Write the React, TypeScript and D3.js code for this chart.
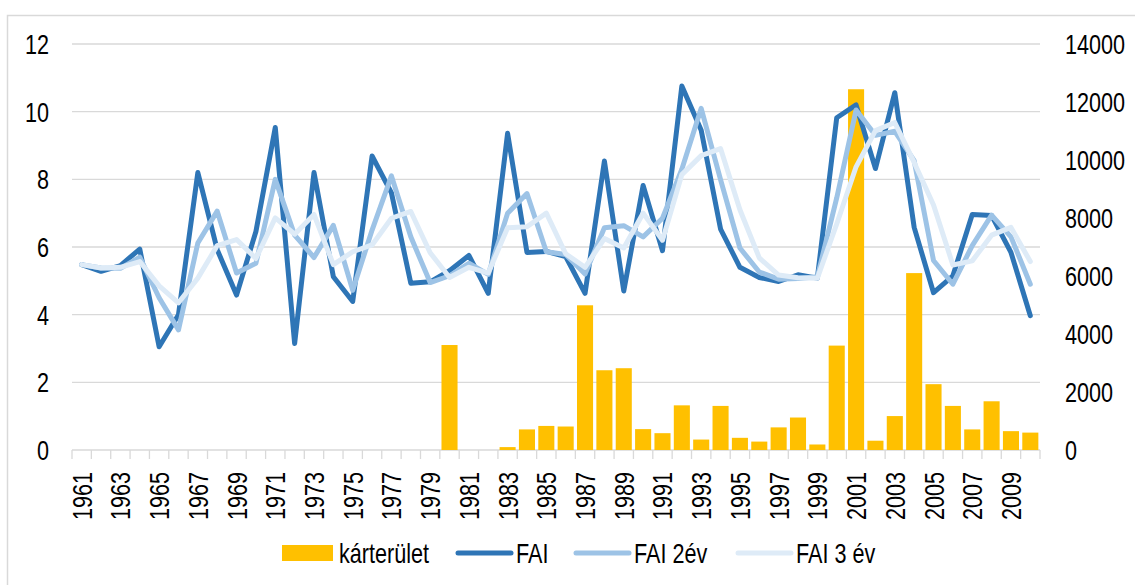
import * as d3 from "d3";

const years = d3.range(1961, 2011);
const tickYears = years.filter((y) => (y - 1961) % 2 === 0);

// károsodott terület (jobb tengely)
const karterulet = [
  0, 0, 0, 0, 0, 0, 0, 0, 0, 0,
  0, 0, 0, 0, 0, 0, 0, 0, 0, 3620,
  0, 0, 100, 710, 830, 810, 4990, 2750, 2820, 720,
  580, 1540, 360, 1520, 420, 290, 780, 1120, 190, 3600,
  12440, 320, 1170, 6100, 2270, 1520, 710, 1680, 650, 600,
];

const fai = [
  5.48, 5.28, 5.45, 5.94, 3.05, 4.0, 8.2, 5.92, 4.58, 6.46,
  9.53, 3.15, 8.2, 5.12, 4.39, 8.69, 7.6, 4.93, 4.97, 5.3,
  5.75, 4.63, 9.36, 5.84, 5.87, 5.72, 4.63, 8.54, 4.7, 7.82,
  5.89, 10.76, 9.45, 6.53, 5.4, 5.1, 4.98, 5.18, 5.08, 9.82,
  10.2, 8.32, 10.56, 6.58, 4.65, 5.15, 6.96, 6.93, 5.84, 3.97,
];

const fai2ev = [
  5.48, 5.38, 5.37, 5.7, 4.5, 3.55, 6.12, 7.06, 5.23, 5.52,
  8.0, 6.35, 5.69, 6.64, 4.72, 6.5, 8.1, 6.3, 4.95, 5.15,
  5.52, 5.19, 7.0, 7.58, 5.86, 5.78, 5.2, 6.57, 6.63, 6.3,
  6.85, 8.3, 10.1, 7.99, 5.97, 5.26, 5.05, 5.07, 5.12, 7.45,
  10.05, 9.3, 9.42, 8.55, 5.6, 4.9, 6.04, 6.94, 6.3, 4.9,
];

const fai3ev = [
  5.48, 5.38, 5.4, 5.57, 4.85, 4.35, 5.08, 6.04, 6.22, 5.66,
  6.86, 6.38, 6.96, 5.48, 5.86, 6.06, 6.85, 7.05, 5.83, 5.1,
  5.4, 5.23, 6.57, 6.6, 7.0, 5.8, 5.4, 6.25, 5.97, 7.0,
  6.2, 8.14, 8.7, 8.91, 7.1, 5.68, 5.17, 5.09, 5.08, 6.68,
  8.37, 9.44, 9.68, 8.5, 7.24, 5.47, 5.59, 6.35, 6.58, 5.57,
];

const leftTicks = [0, 2, 4, 6, 8, 10, 12];
const rightTicks = [0, 2000, 4000, 6000, 8000, 10000, 12000, 14000];

const lineSeries = [
  { name: "FAI", values: fai, color: "#2e75b6" },
  { name: "FAI 2év", values: fai2ev, color: "#9dc3e6" },
  { name: "FAI 3 év", values: fai3ev, color: "#deebf7" },
];

const W = 1135;
const H = 585;
const FONT = "'Liberation Sans', Arial, sans-serif";
const FS = 27;
const NARROW = 0.8; // Arial Narrow look-alike

// text squeezed horizontally, like the narrow font of the original
function NText({ x, y, rot = 0, anchor = "start", children }: any) {
  return (
    <text
      transform={`translate(${x},${y}) rotate(${rot}) scale(${NARROW},1)`}
      textAnchor={anchor}
      fontSize={FS}
      fill="#000"
    >
      {children}
    </text>
  );
}

export default function App() {
  const x = d3.scaleBand<number>().domain(years).range([72, 1040]).padding(0);
  const yL = d3.scaleLinear().domain([0, 12]).range([450, 44]);
  const yR = d3.scaleLinear().domain([0, 14000]).range([450, 44]);
  const cx = (yr: number) => (x(yr) as number) + x.bandwidth() / 2;
  const barW = x.bandwidth() * 0.83;

  const line = d3
    .line<number>()
    .x((_, i) => cx(years[i]))
    .y((d) => yL(d));

  const grid = "#d9d9d9";

  return (
    <svg
      width={W}
      height={H}
      style={{ position: "absolute", left: 0, top: 0, background: "#fff" }}
      fontFamily={FONT}
    >
      <rect x={7.5} y={15.5} width={1140} height={600} fill="#fff" stroke={grid} strokeWidth={1.5} />

      {leftTicks.slice(1).map((t) => (
        <line key={t} x1={72} x2={1040} y1={yL(t)} y2={yL(t)} stroke={grid} strokeWidth={1.3} />
      ))}

      {/* x axis */}
      <line x1={72} x2={1040} y1={yL(0)} y2={yL(0)} stroke={grid} strokeWidth={1.5} />
      {years.concat([2011]).map((yr, i) => {
        const xx = i < years.length ? (x(yr) as number) : 1040;
        return <line key={yr} x1={xx} x2={xx} y1={450} y2={459} stroke={grid} strokeWidth={1.3} />;
      })}

      {leftTicks.map((t) => (
        <NText key={t} x={49} y={yL(t) + 10} anchor="end">
          {t}
        </NText>
      ))}
      {rightTicks.map((t) => (
        <NText key={t} x={1065} y={yR(t) + 10}>
          {t}
        </NText>
      ))}

      {tickYears.map((yr) => (
        <NText key={yr} x={cx(yr) + 10} y={472} rot={-90} anchor="end">
          {yr}
        </NText>
      ))}

      {karterulet.map((v, i) =>
        v > 0 ? (
          <rect
            key={years[i]}
            x={cx(years[i]) - barW / 2}
            y={yR(v)}
            width={barW}
            height={450 - yR(v)}
            fill="#ffc000"
          />
        ) : null
      )}

      {lineSeries.map((s) => (
        <path
          key={s.name}
          d={line(s.values) || ""}
          fill="none"
          stroke={s.color}
          strokeWidth={5}
          strokeLinejoin="round"
          strokeLinecap="round"
        />
      ))}

      {/* legend */}
      <g>
        <rect x={282} y={545} width={51} height={16} fill="#ffc000" />
        <NText x={339} y={563}>kárterület</NText>
        {lineSeries.map((s, i) => {
          const lx = [458, 576, 738][i];
          return (
            <g key={s.name}>
              <line x1={lx} x2={lx + 53} y1={553} y2={553} stroke={s.color} strokeWidth={5} strokeLinecap="round" />
              <NText x={lx + 58} y={563}>{s.name}</NText>
            </g>
          );
        })}
      </g>
    </svg>
  );
}
